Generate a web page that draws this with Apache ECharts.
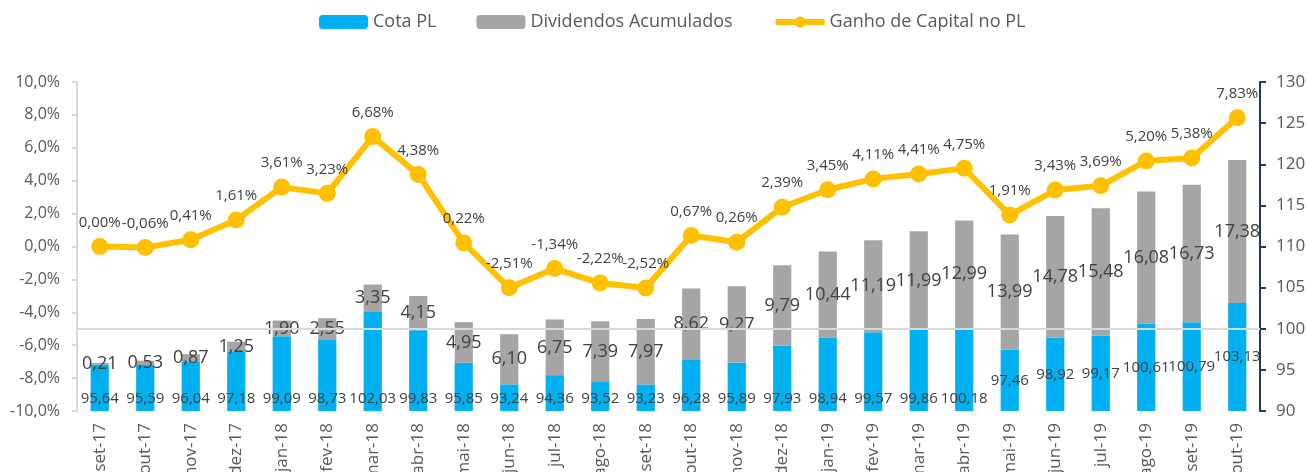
<!DOCTYPE html>
<html>
<head>
<meta charset="utf-8">
<script src="https://cdn.jsdelivr.net/npm/echarts@6/dist/echarts.min.js"></script>
<style>
  html, body { margin: 0; padding: 0; background: #fff; }
  #chart { width: 1307px; height: 472px; }
</style>
</head>
<body>
<div id="chart"></div>
<script>
// meses
var meses = ['set-17', 'out-17', 'nov-17', 'dez-17', 'jan-18', 'fev-18', 'mar-18', 'abr-18', 'mai-18',
    'jun-18', 'jul-18', 'ago-18', 'set-18', 'out-18', 'nov-18', 'dez-18', 'jan-19', 'fev-19', 'mar-19',
    'abr-19', 'mai-19', 'jun-19', 'jul-19', 'ago-19', 'set-19', 'out-19'];

// cota PL (eixo direito)
var cotaPL = [95.64, 95.59, 96.04, 97.18, 99.09, 98.73, 102.03, 99.83, 95.85, 93.24, 94.36, 93.52, 93.23,
    96.28, 95.89, 97.93, 98.94, 99.57, 99.86, 100.18, 97.46, 98.92, 99.17, 100.61, 100.79, 103.13];

// dividendos acumulados, empilhados sobre a cota
var dividendos = [0.21, 0.53, 0.87, 1.25, 1.90, 2.55, 3.35, 4.15, 4.95, 6.10, 6.75, 7.39, 7.97, 8.62,
    9.27, 9.79, 10.44, 11.19, 11.99, 12.99, 13.99, 14.78, 15.48, 16.08, 16.73, 17.38];

// ganho de capital no PL, em %
var ganho = [0.00, -0.06, 0.41, 1.61, 3.61, 3.23, 6.68, 4.38, 0.22, -2.51, -1.34, -2.22, -2.52, 0.67,
    0.26, 2.39, 3.45, 4.11, 4.41, 4.75, 1.91, 3.43, 3.69, 5.20, 5.38, 7.83];

// a partir deste mes o rotulo da cota fica no meio da barra
var cotaRotuloMeio = 'mai-19';

var cinza = '#595959';
var fonte = '"Open Sans", sans-serif';

function virgula(v, casas) {
    return v.toFixed(casas).replace('.', ',');
}

var corte = meses.indexOf(cotaRotuloMeio);
var cotaData = [];
for (var i = 0; i < cotaPL.length; i++) {
    if (i >= corte) {
        cotaData.push({ value: cotaPL[i], label: { position: 'inside' } });
    } else {
        cotaData.push(cotaPL[i]);
    }
}

var myChart = echarts.init(document.getElementById('chart'));

var option = {
    animation: false,
    textStyle: { fontFamily: fonte },
    legend: {
        top: 8,
        left: 314,
        itemWidth: 49,
        itemHeight: 14,
        itemGap: 40,
        textStyle: { color: cinza, fontSize: 18, fontFamily: fonte },
        data: ['Cota PL', 'Dividendos Acumulados', {
            name: 'Ganho de Capital no PL',
            lineStyle: { width: 6 },
            itemStyle: { color: '#FFC000' }
        }]
    },
    grid: { left: 77, right: 47, top: 82, bottom: 61, outerBoundsMode: 'none' },
    xAxis: {
        type: 'category',
        data: meses,
        axisLine: { show: false },
        axisTick: { show: false },
        axisLabel: { rotate: 90, color: cinza, fontSize: 17, margin: 12, fontFamily: fonte }
    },
    yAxis: [{
        type: 'value',
        min: -10,
        max: 10,
        interval: 2,
        splitLine: { show: false },
        axisLine: { show: true, lineStyle: { color: '#d9d9d9', width: 2 } },
        axisTick: { show: true, length: 5, lineStyle: { color: '#d9d9d9', width: 2 } },
        axisLabel: {
            color: cinza, fontSize: 16, margin: 17, fontFamily: fonte,
            formatter: function (v) { return virgula(v, 1) + '%'; }
        }
    }, {
        type: 'value',
        position: 'right',
        min: 90,
        max: 130,
        interval: 5,
        splitLine: { show: false },
        axisLine: { show: true, lineStyle: { color: '#1F3864', width: 2 } },
        axisTick: { show: true, length: 6, lineStyle: { color: '#1F3864', width: 2 } },
        axisLabel: { color: cinza, fontSize: 17, margin: 16, fontFamily: fonte }
    }],
    series: [{
        name: 'Cota PL',
        type: 'bar',
        yAxisIndex: 1,
        stack: 'pl',
        barWidth: '40%',
        itemStyle: { color: '#00B0F0' },
        label: {
            show: true,
            position: 'insideBottom',
            distance: 5,
            color: '#404040',
            fontSize: 15,
            fontFamily: fonte,
            formatter: function (p) { return virgula(p.value, 2); }
        },
        markLine: {
            silent: true,
            symbol: 'none',
            label: { show: false },
            lineStyle: { color: '#d9d9d9', width: 2, type: 'solid' },
            data: [{ yAxis: 100 }]
        },
        data: cotaData
    }, {
        name: 'Dividendos Acumulados',
        type: 'bar',
        yAxisIndex: 1,
        stack: 'pl',
        itemStyle: { color: '#A5A5A5' },
        label: {
            show: true,
            position: 'inside',
            color: '#404040',
            fontSize: 18,
            fontFamily: fonte,
            formatter: function (p) { return virgula(p.value, 2); }
        },
        data: dividendos
    }, {
        name: 'Ganho de Capital no PL',
        type: 'line',
        yAxisIndex: 0,
        symbol: 'circle',
        symbolSize: 17,
        z: 5,
        itemStyle: { color: '#FFC000' },
        lineStyle: { color: '#FFC000', width: 6 },
        label: {
            show: true,
            position: 'top',
            distance: 8,
            color: '#404040',
            fontSize: 15,
            fontFamily: fonte,
            formatter: function (p) { return virgula(p.value, 2) + '%'; }
        },
        data: ganho
    }]
};

myChart.setOption(option);
</script>
</body>
</html>
